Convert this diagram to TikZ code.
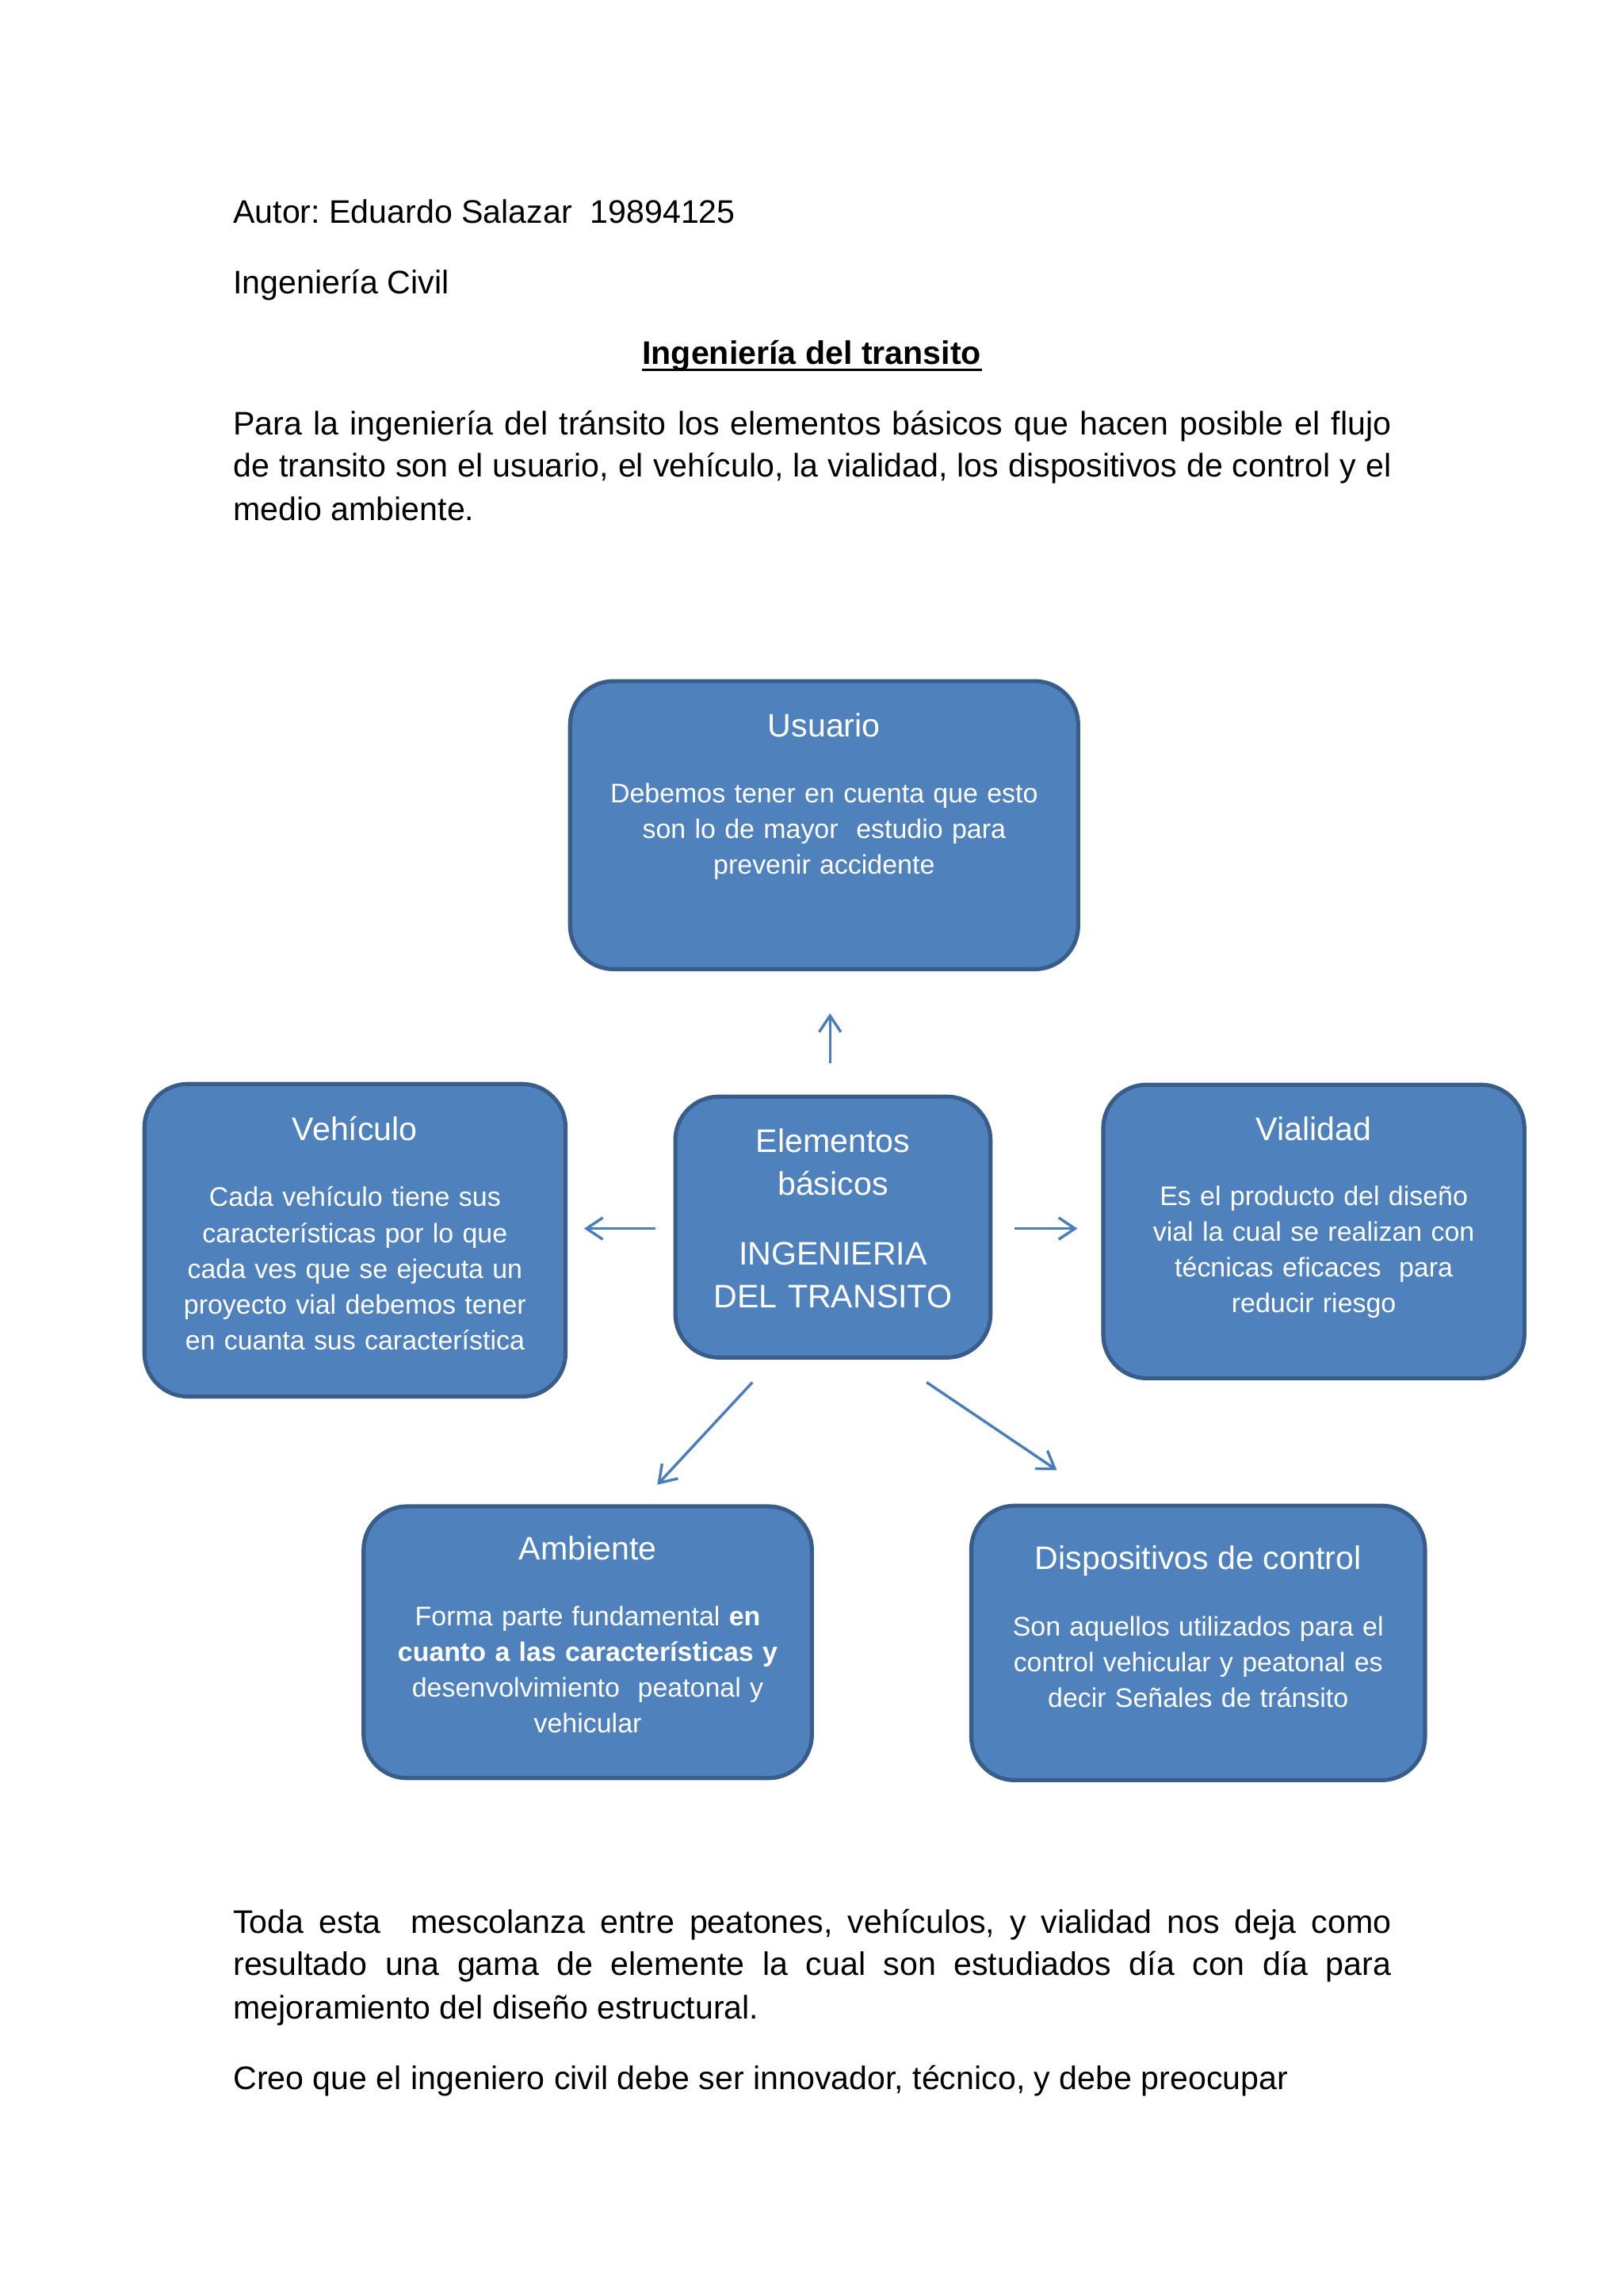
\documentclass[tikz,border=0pt]{standalone}
\usepackage{fontspec}
\setmainfont{Liberation Sans}
\usetikzlibrary{
  positioning,
  arrows.meta
}
\definecolor{cajafondo}{HTML}{4F81BD}
\definecolor{cajaborde}{HTML}{385D8A}
\definecolor{flechaazul}{HTML}{4A7EBB}
\frenchspacing

\tikzset{
  caja/.style={draw=cajaborde, fill=cajafondo, line width=1.5pt, rounded corners=16pt, inner sep=0pt},
  titulocaja/.style={text=white, font=\fontsize{12}{15.8}\selectfont, anchor=base, inner sep=0pt},
  cuerpocaja/.style={text=white, font=\fontsize{9.9}{13.2}\selectfont, align=center, text width=170pt, anchor=base, inner sep=0pt},
  texto/.style={font=\fontsize{12}{15.8}\selectfont, anchor=base west, inner sep=0pt},
  flecha/.style={draw=flechaazul, line width=1pt, -{Straight Barb[length=6pt,width=8pt]}}
}

\begin{document}
\begin{tikzpicture}[x=0.018936cm, y=-0.018936cm]
  \useasboundingbox (0,0) rectangle (1109,1568);

  % Encabezado
  \node[texto] (autor) at (159,152.5) {Autor: Eduardo Salazar\ \ 19894125};
  \node[texto] (carrera) at (159,200.4) {Ingeniería Civil};
  \node[texto, anchor=base, font=\fontsize{12}{15.8}\selectfont\bfseries] (titulo) at (554.5,248.6) {Ingeniería del transito};
  \draw[line width=0.9pt] ([yshift=-2.2pt]titulo.base west) -- ([yshift=-2.2pt]titulo.base east);

  % Introduccion
  \node[texto] (intro1) at (159,296.8) {\makebox[14.98cm][s]{Para la ingeniería del tránsito los elementos básicos que hacen posible el flujo}};
  \node[texto] (intro2) at (159,325.8) {\makebox[14.98cm][s]{de transito son el usuario, el vehículo, la vialidad, los dispositivos de control y el}};
  \node[texto] (intro3) at (159,355.6) {medio ambiente.};

  % Cajas
  \node[caja, minimum width=187pt, minimum height=106pt] (usuario) at (563,563.5) {};
  \node[caja, minimum width=116pt, minimum height=96pt] (elementos) at (569,838) {};
  \node[caja, minimum width=155pt, minimum height=115pt] (vehiculo) at (242.5,847) {};
  \node[caja, minimum width=155pt, minimum height=108pt] (vialidad) at (897.5,841) {};
  \node[caja, minimum width=165pt, minimum height=100pt] (ambiente) at (401.5,1121.5) {};
  \node[caja, minimum width=167pt, minimum height=101pt] (dispositivos) at (818.5,1122) {};

  % Textos de las cajas
  \node[titulocaja] (usuarioTit) at (563,503) {Usuario};
  \node[cuerpocaja] (usuarioTxt) at (563,548) {Debemos tener en cuenta que esto\\son lo de mayor\ \ estudio para\\prevenir accidente};

  \node[titulocaja, align=center, text width=116pt] (elementosTit) at (569,787) {Elementos\\básicos\\[9.9pt]INGENIERIA\\DEL TRANSITO};

  \node[titulocaja] (vehiculoTit) at (242.5,779) {Vehículo};
  \node[cuerpocaja] (vehiculoTxt) at (242.5,824) {Cada vehículo tiene sus\\características por lo que\\cada ves que se ejecuta un\\proyecto vial debemos tener\\en cuanta sus característica};

  \node[titulocaja] (vialidadTit) at (897.5,779) {Vialidad};
  \node[cuerpocaja] (vialidadTxt) at (897.5,823) {Es el producto del diseño\\vial la cual se realizan con\\técnicas eficaces\ \ para\\reducir riesgo};

  \node[titulocaja] (ambienteTit) at (401.5,1065) {Ambiente};
  \node[cuerpocaja] (ambienteTxt) at (401.5,1110) {Forma parte fundamental \textbf{en}\\\textbf{cuanto a las características y}\\desenvolvimiento\ \ peatonal y\\vehicular};

  \node[titulocaja] (dispositivosTit) at (818.5,1072) {Dispositivos de control};
  \node[cuerpocaja] (dispositivosTxt) at (818.5,1117) {Son aquellos utilizados para el\\control vehicular y peatonal es\\decir Señales de tránsito};

  % Flechas
  \coordinate (arribaA) at (567,726);
  \coordinate (arribaB) at (567,692);
  \coordinate (izqA) at (448,839);
  \coordinate (izqB) at (399,839);
  \coordinate (derA) at (693,839);
  \coordinate (derB) at (736,839);
  \coordinate (abajoIzqA) at (514,944);
  \coordinate (abajoIzqB) at (449,1014);
  \coordinate (abajoDerA) at (633,944);
  \coordinate (abajoDerB) at (722,1004);
  \draw[flecha] (arribaA) -- (arribaB);
  \draw[flecha] (izqA) -- (izqB);
  \draw[flecha] (derA) -- (derB);
  \draw[flecha] (abajoIzqA) -- (abajoIzqB);
  \draw[flecha] (abajoDerA) -- (abajoDerB);

  % Cierre
  \node[texto] (cierre1) at (159,1320.3) {\makebox[14.98cm][s]{Toda esta\ \ mescolanza entre peatones, vehículos, y vialidad nos deja como}};
  \node[texto] (cierre2) at (159,1349) {\makebox[14.98cm][s]{resultado una gama de elemente la cual son estudiados día con día para}};
  \node[texto] (cierre3) at (159,1378.9) {mejoramiento del diseño estructural.};
  \node[texto] (cierre4) at (159,1427) {Creo que el ingeniero civil debe ser innovador, técnico, y debe preocupar};
\end{tikzpicture}
\end{document}
